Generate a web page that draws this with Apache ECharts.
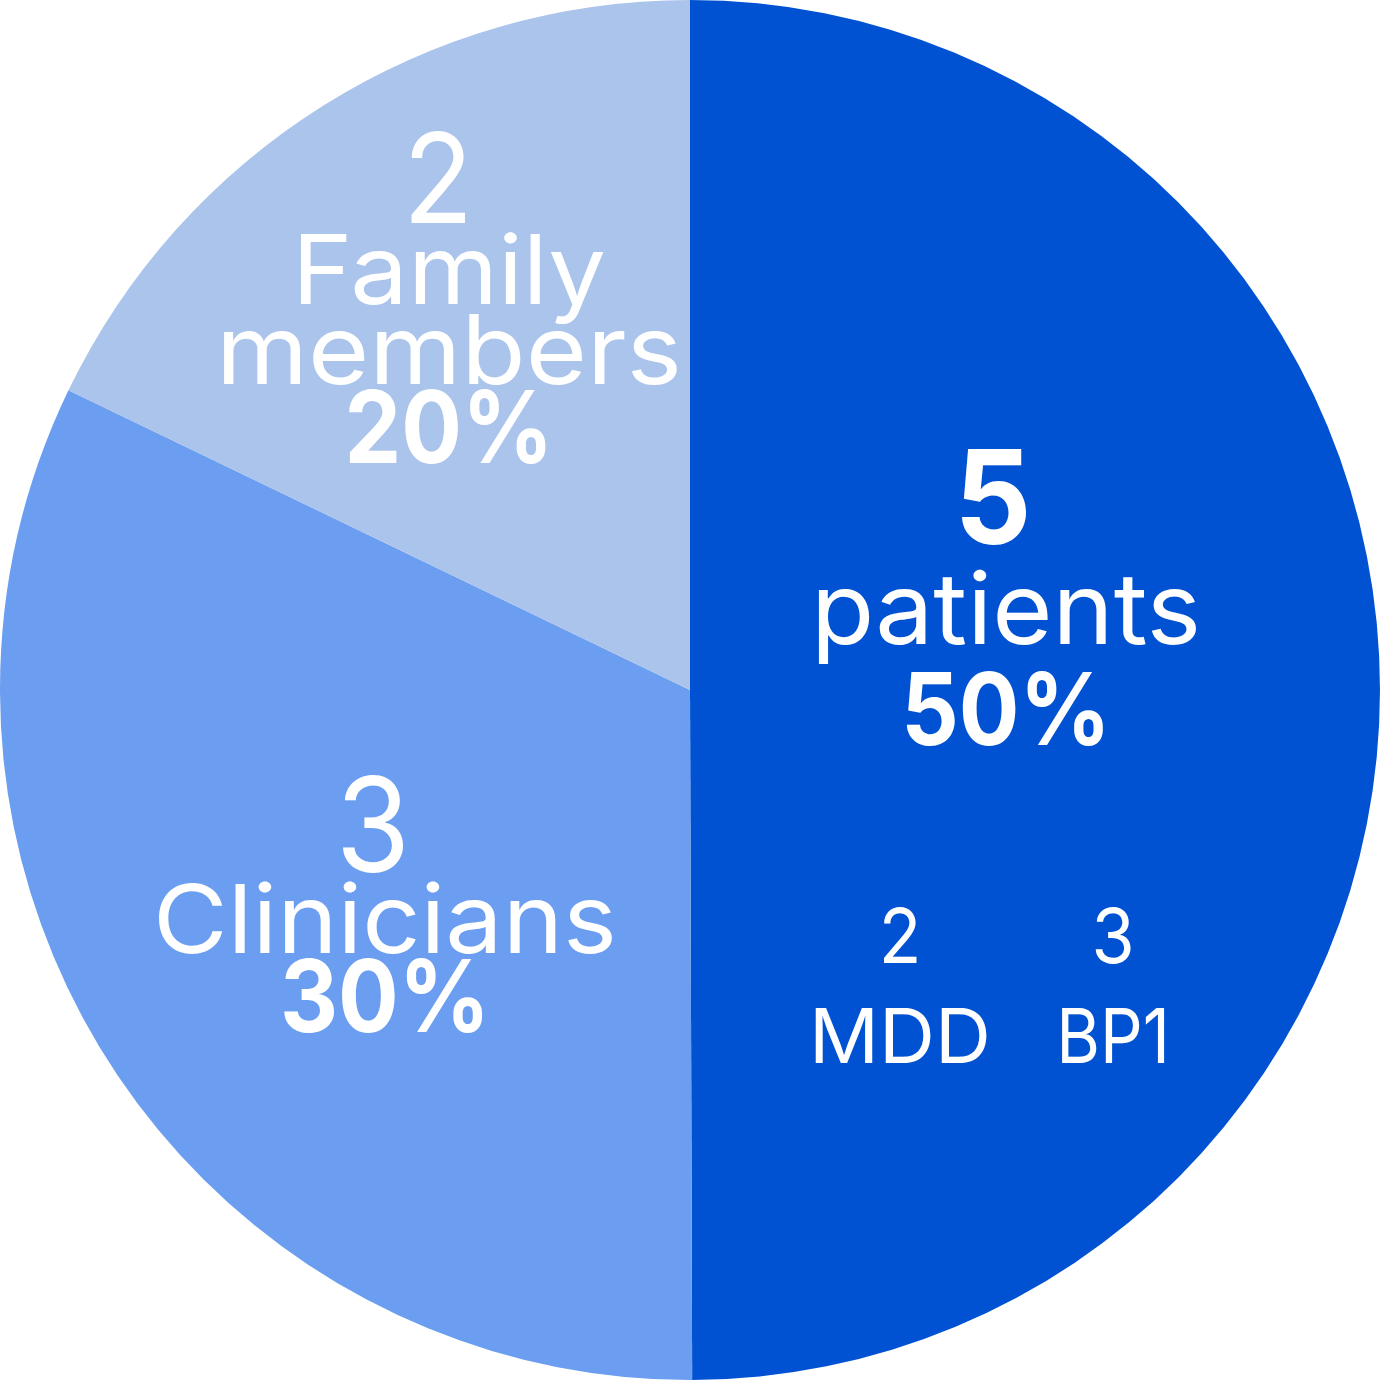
<!DOCTYPE html>
<html>
<head>
<meta charset="utf-8">
<script src="https://cdn.jsdelivr.net/npm/echarts@6/dist/echarts.min.js"></script>
<style>
  html, body { margin: 0; padding: 0; background: #fff; }
  #chart { width: 1380px; height: 1380px; }
</style>
</head>
<body>
<div id="chart"></div>
<script>
// groups of participants
var groupNames = ['patients', 'Clinicians', 'Family\nmembers'];
var groupCounts = [5, 3, 2];
var groupPercents = ['50%', '30%', '20%'];
// angular share of each slice as drawn in the picture
var sliceShares = [49.95, 32.2, 17.85];
var groupColors = ['#0052d2', '#6b9df0', '#aac4eb'];

// patient diagnoses
var subtypeNames = ['MDD', 'BP1'];
var subtypeCounts = [2, 3];

var chart = echarts.init(document.getElementById('chart'));
var FONT = 'Inter, "Noto Sans", sans-serif';

// text y from wanted baseline (canvas middle sits ~0.3em above baseline)
function txt(str, x, base, size, weight, sx) {
    return {
        type: 'text',
        silent: true,
        z: 100,
        x: x,
        y: base - 0.3 * size,
        scaleX: sx || 1,
        style: {
            text: str,
            fill: '#fff',
            textAlign: 'center',
            textVerticalAlign: 'middle',
            font: (weight === 'bold' ? 'bold ' : '') + size + 'px ' + FONT
        }
    };
}

// label placement for each group
var labelPos = [
    { x: 1006, cx: 993, count: 544, name: [644], nsx: [1.045], pct: 745, countSize: 131, countWeight: 'bold', nameSize: 99 },
    { x: 385, cx: 373, count: 872, name: [953], nsx: [1.075], pct: 1032, countSize: 131, countWeight: 'normal', nameSize: 95 },
    { x: 449, cx: 438, count: 223, name: [304, 384], nsx: [1.07, 1.095], pct: 463, countSize: 125, countWeight: 'normal', nameSize: 96 }
];
var subPos = [{ x: 900 }, { x: 1113 }];

var graphics = [];
groupNames.forEach(function (name, i) {
    var p = labelPos[i];
    graphics.push(txt(String(groupCounts[i]), p.cx, p.count, p.countSize, p.countWeight, 0.92));
    name.split('\n').forEach(function (line, j) {
        graphics.push(txt(line, p.x, p.name[j], p.nameSize, 'normal', p.nsx[j]));
    });
    graphics.push(txt(groupPercents[i], p.x, p.pct, 100, 'bold', 0.9));
});
subtypeNames.forEach(function (name, i) {
    graphics.push(txt(String(subtypeCounts[i]), subPos[i].x, 963, 76, 'normal', 0.92));
    graphics.push(txt(name, subPos[i].x, 1063, 76, 'normal', i === 1 ? 0.88 : 1.02));
});

var option = {
    animation: false,
    series: [{
        type: 'pie',
        center: ['50%', '50%'],
        radius: ['0%', '100%'],
        startAngle: 90,
        clockwise: true,
        silent: true,
        label: { show: false },
        labelLine: { show: false },
        data: groupNames.map(function (n, i) {
            return { name: n, value: sliceShares[i], itemStyle: { color: groupColors[i] } };
        })
    }],
    graphic: { elements: graphics }
};

chart.setOption(option);
</script>
</body>
</html>
